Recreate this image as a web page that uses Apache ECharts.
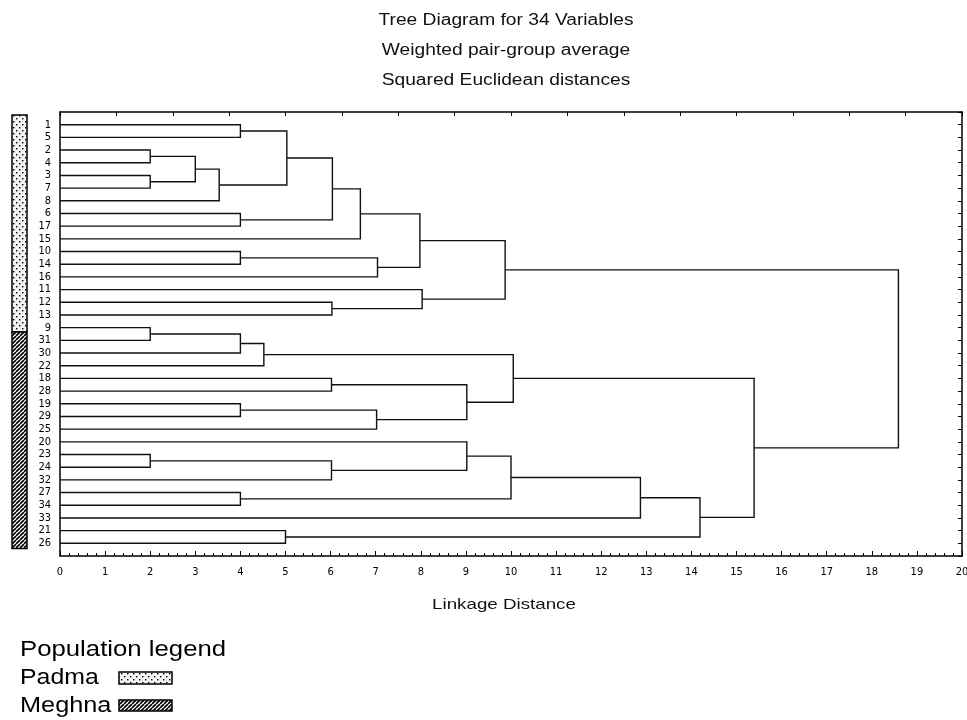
<!DOCTYPE html>
<html>
<head>
<meta charset="utf-8">
<script src="https://cdn.jsdelivr.net/npm/echarts@6/dist/echarts.min.js"></script>
<style>html,body{margin:0;padding:0;background:#fff}#main{width:967px;height:720px}</style>
</head>
<body>
<div id="main"></div>
<script>
// ---- data ----
const leaves = ['1','5','2','4','3','7','8','6','17','15','10','14','16','11','12','13',
  '9','31','30','22','18','28','19','29','25','20','23','24','32','27','34','33','21','26'];
// merges: [childA, childB, linkage distance]; 'C#' refers to an earlier merge
const merges = [
  ['2','4',2.0], ['3','7',2.0], ['9','31',2.0], ['23','24',2.0],
  ['C0','C1',3.0], ['C4','8',3.53], ['1','5',4.0], ['6','17',4.0],
  ['10','14',4.0], ['C2','30',4.0], ['19','29',4.0], ['27','34',4.0],
  ['C9','22',4.52], ['C6','C5',5.03], ['21','26',5.0], ['C13','C7',6.04],
  ['12','13',6.03], ['18','28',6.02], ['C3','32',6.02], ['C15','15',6.66],
  ['C8','16',7.04], ['C10','25',7.02], ['C19','C20',7.98], ['11','C16',8.03],
  ['C17','C21',9.02], ['20','C18',9.02], ['C22','C23',9.87], ['C12','C24',10.05],
  ['C25','C11',10.0], ['C28','33',12.87], ['C29','C14',14.19], ['C27','C30',15.39],
  ['C26','C31',18.59]
];
// population bar extents along leaf axis: [start, end, population index]
const populations = ['Padma','Meghna'];
const populationBands = [[0.24, 17.34, 0], [17.34, 34.4, 1]];
const xTicks = [0,1,2,3,4,5,6,7,8,9,10,11,12,13,14,15,16,17,18,19,20];
const titleLines = ['Tree Diagram for 34 Variables','Weighted pair-group average','Squared Euclidean distances'];

// ---- build dendrogram segments ----
const nodes = [];
function nodePos(ref){
  if (ref[0] === 'C') return nodes[+ref.slice(1)];
  return {h: 0, y: leaves.indexOf(ref) + 1};
}
const segData = merges.map(m => {
  const a = nodePos(m[0]), b = nodePos(m[1]);
  nodes.push({h: m[2], y: (a.y + b.y) / 2});
  return [a.h, a.y, m[2], b.y, b.h];
});

// ---- patterns ----
function dotPattern(){
  const c = document.createElement('canvas'); c.width = 6; c.height = 6;
  const g = c.getContext('2d');
  g.fillStyle = '#f2f2f2'; g.fillRect(0,0,6,6);
  g.fillStyle = '#000'; g.fillRect(1,1,1.4,1.4); g.fillRect(4,4,1.4,1.4);
  return c;
}
function hatchPattern(){
  const c = document.createElement('canvas'); c.width = 4; c.height = 4;
  const g = c.getContext('2d');
  g.fillStyle = '#fff'; g.fillRect(0,0,4,4);
  g.strokeStyle = '#000'; g.lineWidth = 1.7;
  [-4,0,4].forEach(o => { g.beginPath(); g.moveTo(o,4); g.lineTo(o+4,0); g.stroke(); });
  return c;
}
const fills = [{image: dotPattern(), repeat: 'repeat'}, {image: hatchPattern(), repeat: 'repeat'}];

const chart = echarts.init(document.getElementById('main'), null, {renderer: 'canvas'});
const narrow = '"Liberation Sans Narrow", "DejaVu Sans Condensed", "Liberation Sans", Arial, sans-serif';
const sans = '"Liberation Sans", Arial, Helvetica, sans-serif';

function txt(text, x, y, size, sx, align, color){
  return {type: 'text', x: x, y: y, scaleX: sx,
    style: {text: text, font: size + 'px ' + sans, fill: color || '#111', align: align, verticalAlign: 'middle'}};
}

const option = {
  animation: false,
  backgroundColor: '#fff',
  grid: {left: 60, right: 5, top: 112, bottom: 164, outerBoundsMode: 'none', containLabel: false},
  xAxis: [{
    type: 'value', position: 'bottom', min: 0, max: 20, interval: 1,
    axisLine: {show: true, onZero: false, lineStyle: {color: '#000', width: 1.5}},
    axisTick: {show: true, inside: true, length: 5, lineStyle: {color: '#000'}},
    minorTick: {show: true, splitNumber: 5, length: 3, lineStyle: {color: '#000'}},
    splitLine: {show: false},
    axisLabel: {margin: 11, fontSize: 11, color: '#000', fontFamily: narrow,
      formatter: v => xTicks.indexOf(v) >= 0 ? String(v) : ''}
  }, {
    type: 'value', position: 'top', min: 0, max: 16, interval: 1,
    axisLine: {show: true, onZero: false, lineStyle: {color: '#000', width: 1.5}},
    axisTick: {show: true, inside: true, length: 4, lineStyle: {color: '#000'}},
    splitLine: {show: false}, axisLabel: {show: false}
  }],
  yAxis: [{
    type: 'value', position: 'left', inverse: true, min: 0, max: 35, interval: 1,
    axisLine: {show: true, onZero: false, lineStyle: {color: '#000', width: 1.5}},
    axisTick: {show: false}, splitLine: {show: false},
    axisLabel: {margin: 9, fontSize: 11, color: '#000', fontFamily: narrow,
      formatter: v => (v >= 1 && v <= leaves.length) ? leaves[v - 1] : ''}
  }, {
    type: 'value', position: 'right', inverse: true, min: 0, max: 35, interval: 1,
    axisLine: {show: true, onZero: false, lineStyle: {color: '#000', width: 1.5}},
    axisTick: {show: true, inside: true, length: 4, lineStyle: {color: '#000'}},
    splitLine: {show: false}, axisLabel: {show: false}
  }],
  series: [{
    type: 'custom', xAxisIndex: 0, yAxisIndex: 0,
    data: segData,
    renderItem: function(params, api){
      const p1 = api.coord([api.value(0), api.value(1)]);
      const p2 = api.coord([api.value(2), api.value(1)]);
      const p3 = api.coord([api.value(2), api.value(3)]);
      const p4 = api.coord([api.value(4), api.value(3)]);
      return {type: 'polyline', shape: {points: [p1,p2,p3,p4]},
        style: {stroke: '#111', lineWidth: 1.4, fill: null}};
    }
  }, {
    type: 'custom', xAxisIndex: 0, yAxisIndex: 0, clip: false,
    data: populationBands,
    encode: {y: [0, 1]},
    renderItem: function(params, api){
      const x0 = api.coord([0, 0])[0];
      const y1 = api.coord([0, api.value(0)])[1];
      const y2 = api.coord([0, api.value(1)])[1];
      return {type: 'rect', shape: {x: x0 - 48, y: y1, width: 15, height: y2 - y1},
        style: {fill: fills[api.value(2)], stroke: '#000', lineWidth: 1.5}};
    }
  }],
  graphic: [
    txt(titleLines[0], 506, 21, 16, 1.2, 'center'),
    txt(titleLines[1], 506, 51, 16, 1.2, 'center'),
    txt(titleLines[2], 506, 81, 16, 1.2, 'center'),
    txt('Linkage Distance', 504, 605, 15, 1.25, 'center'),
    txt('Population legend', 20, 650, 22, 1.17, 'left', '#000'),
    txt(populations[0], 20, 678, 22, 1.13, 'left', '#000'),
    txt(populations[1], 20, 706, 22, 1.15, 'left', '#000'),
    {type: 'rect', shape: {x: 119, y: 672, width: 53, height: 12},
      style: {fill: fills[0], stroke: '#000', lineWidth: 1.5}},
    {type: 'rect', shape: {x: 119, y: 700, width: 53, height: 11},
      style: {fill: fills[1], stroke: '#000', lineWidth: 1.5}}
  ]
};
chart.setOption(option);
</script>
</body>
</html>
